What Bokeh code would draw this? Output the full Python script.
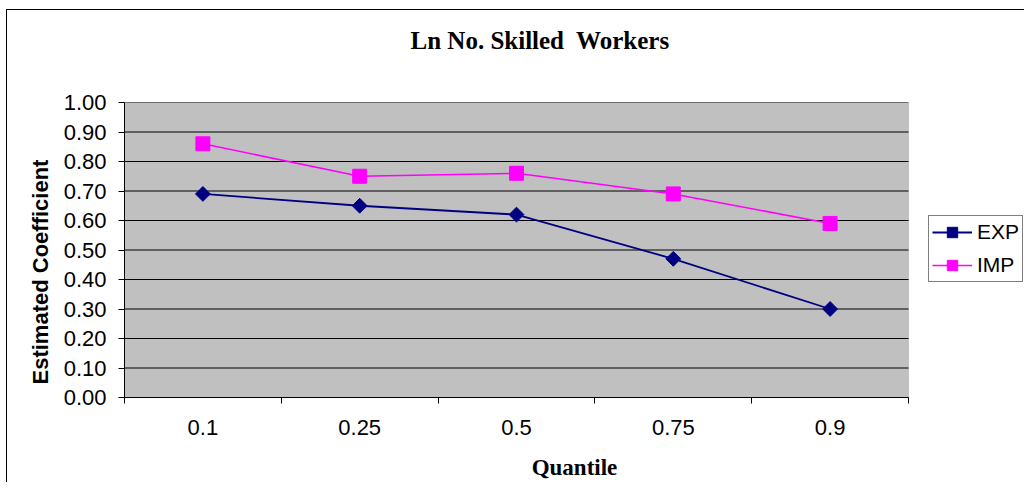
import math
from bokeh.plotting import figure
from bokeh.models import (FixedTicker, NumeralTickFormatter, Legend, LegendItem, Title,
                          BoxAnnotation)
from bokeh.embed import file_html
from bokeh.resources import INLINE

# ---- data ----
quantiles = ["0.1", "0.25", "0.5", "0.75", "0.9"]
exp_coef = [0.69, 0.65, 0.62, 0.47, 0.30]
imp_coef = [0.86, 0.75, 0.76, 0.69, 0.59]
y_ticks = [0.0, 0.1, 0.2, 0.3, 0.4, 0.5, 0.6, 0.7, 0.8, 0.9, 1.0]
title_text = "Ln No. Skilled\u00a0 Workers"
x_label = "Quantile"
y_label = "Estimated Coefficient"

n = len(quantiles)
xs = [i + 0.5 for i in range(n)]
bounds = list(range(n + 1))

# plot area is 784px wide; the frame also holds the legend to its right (900px)
FRAME_W, AREA_W = 900, 784
p = figure(width=1024, height=482, output_backend="svg", toolbar_location=None,
           x_range=(0, n * FRAME_W / AREA_W), y_range=(0, 1.0),
           min_border_left=124, min_border_right=0, min_border_top=102, min_border_bottom=82)
# outer chart border (drawn behind a transparent canvas border area)
p.styles = {
    "background-color": "white",
    "background-image": "linear-gradient(black, black), linear-gradient(black, black)",
    "background-size": "1px 100%, 100% 1px",
    "background-position": "6px 9px, 6px 9px",
    "background-repeat": "no-repeat",
}

p.background_fill_color = "white"
p.background_fill_alpha = 0
p.border_fill_color = "white"
p.border_fill_alpha = 0
p.outline_line_color = None

# grey plot area
p.add_layout(BoxAnnotation(left=0, right=n, bottom=0, top=1.0, fill_color="#C0C0C0",
                           fill_alpha=1, line_color="#808080", line_width=1, level="image"))

# title (trailing empty line lifts it away from the plot area)
p.title.visible = False
ttl = Title(text=title_text + "\n", text_font="Liberation Serif", text_font_style="bold",
            text_font_size="25px", text_color="black", align="left", offset=286,
            standoff=44)
p.add_layout(ttl, "above")

# x axis
xa = p.xaxis[0]
xa.bounds = (0, n)
xa.ticker = FixedTicker(ticks=xs, minor_ticks=bounds)
xa.major_label_overrides = {x: q for x, q in zip(xs, quantiles)}
xa.major_tick_line_color = None
xa.minor_tick_line_color = "black"
xa.minor_tick_out = 6
xa.minor_tick_in = 0
xa.axis_line_color = "black"
xa.major_label_text_font = "Liberation Sans"
xa.major_label_text_font_size = "22px"
xa.major_label_text_color = "black"
xa.major_label_standoff = 16
xa.axis_label = x_label
xa.axis_label_text_font = "Liberation Serif"
xa.axis_label_text_font_style = "bold"
xa.axis_label_text_font_size = "23px"
xa.axis_label_text_color = "black"
xa.axis_label_standoff = 17

# y axis
ya = p.yaxis[0]
ya.ticker = FixedTicker(ticks=y_ticks)
ya.formatter = NumeralTickFormatter(format="0.00")
ya.major_tick_line_color = "black"
ya.major_tick_out = 6
ya.major_tick_in = 0
ya.minor_tick_line_color = None
ya.axis_line_color = "black"
ya.major_label_text_font = "Liberation Sans"
ya.major_label_text_font_size = "22px"
ya.major_label_text_color = "black"
ya.major_label_standoff = 12

ylab = Title(text=y_label, text_font="Liberation Sans", text_font_style="bold",
             text_font_size="22px", text_color="black", align="left", offset=13,
             standoff=16)
p.add_layout(ylab, "left")

# horizontal gridlines limited to the grey plot area
p.xgrid.grid_line_color = None
p.ygrid.grid_line_color = None
p.segment(x0=[0] * len(y_ticks), x1=[n] * len(y_ticks), y0=y_ticks, y1=y_ticks,
          line_color="black", line_width=1)

# series
l1 = p.line(xs, exp_coef, line_color="#000080", line_width=1.8)
m1 = p.scatter(xs, exp_coef, marker="square", size=10.5, angle=math.pi / 4,
               fill_color="#000080", line_color="#000080")
l2 = p.line(xs, imp_coef, line_color="#FF00FF", line_width=1.5)
m2 = p.scatter(xs, imp_coef, marker="square", size=14,
               fill_color="#FF00FF", line_color="#FF00FF")

legend = Legend(items=[LegendItem(label="EXP", renderers=[l1, m1]),
                       LegendItem(label="IMP", renderers=[l2, m2])],
                location=(804, 115))
legend.border_line_color = "black"
legend.border_line_width = 1
legend.background_fill_color = "white"
legend.background_fill_alpha = 1
legend.label_text_font = "Liberation Sans"
legend.label_text_font_size = "21px"
legend.label_text_color = "black"
legend.glyph_width = 40
legend.glyph_height = 26
legend.padding = 3
legend.spacing = 7
legend.label_standoff = 5
legend.margin = 0
p.add_layout(legend)

open("out.html", "w").write(file_html(p, INLINE))
